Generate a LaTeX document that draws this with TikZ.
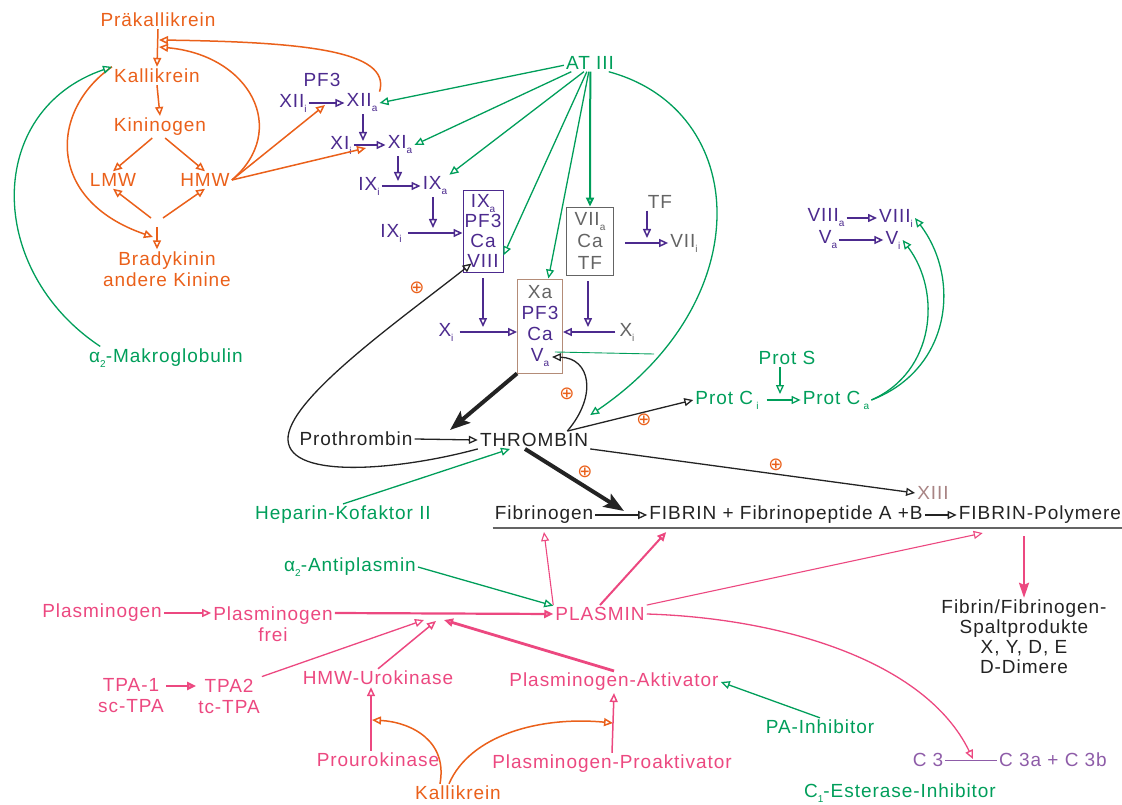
\documentclass[tikz,border=0pt]{standalone}
\usepackage{fontspec}
\setmainfont{Liberation Sans}[LetterSpace=5.0]
\newfontfamily\symfont{DejaVu Sans}
\usetikzlibrary{arrows.meta}

\definecolor{cOrange}{RGB}{234,96,26}
\definecolor{cGreen}{RGB}{0,158,90}
\definecolor{cPurple}{RGB}{76,42,142}
\definecolor{cPink}{RGB}{236,72,128}
\definecolor{cGray}{RGB}{100,100,100}
\definecolor{cDark}{RGB}{35,35,35}
\definecolor{cBrown}{RGB}{180,140,120}
\definecolor{cRose}{RGB}{168,132,132}
\definecolor{cMauve}{RGB}{142,92,168}

\newcommand{\lowsub}[1]{\raisebox{-0.5ex}{\fontsize{10}{10}\selectfont #1}}

\begin{document}
\begin{tikzpicture}[
    x=1pt, y=-1pt,
    every node/.style={font=\fontsize{19}{21}\selectfont, inner sep=2pt, align=center},
    orangetxt/.style={text=cOrange},
    greentxt/.style={text=cGreen},
    purpletxt/.style={text=cPurple},
    pinktxt/.style={text=cPink},
    graytxt/.style={text=cGray},
    darktxt/.style={text=cDark},
    plussign/.style={text=cOrange, font={\symfont\fontsize{18}{18}\selectfont}},
    factorbox/.style={draw, line width=0.9pt, inner sep=0pt},
    arrow/.style={-{Triangle[open, length=9pt, width=8pt]}, line width=1.5pt},
    orangearrow/.style={arrow, draw=cOrange},
    greenarrow/.style={arrow, draw=cGreen, line width=1.3pt},
    purplearrow/.style={arrow, draw=cPurple},
    pinkarrow/.style={arrow, draw=cPink},
    darkarrow/.style={arrow, draw=cDark, line width=1.3pt},
    thickarrow/.style={-{Stealth[length=20pt, width=15pt, inset=4pt]}, line width=4pt, draw=cDark},
    spaltarrow/.style={-{Stealth[length=15pt, width=10pt, inset=2pt]}, line width=2.4pt, draw=cPink}
]
\useasboundingbox (0,0) rectangle (1122,805);

% Kallikrein / Kinine
\node[orangetxt] (Prae) at (158, 20) {Präkallikrein};
\node[orangetxt] (Kalli) at (157, 76) {Kallikrein};
\node[orangetxt] (Kinino) at (160, 127) {Kininogen};
\node[orangetxt] (LMW) at (113, 180) {LMW};
\node[orangetxt] (HMW) at (205, 180) {HMW};
\node[orangetxt] (Brady) at (167, 269) {Bradykinin\\andere Kinine};
\node[greentxt] (Makro) at (166, 358) {α\lowsub{2}-Makroglobulin};

% Gerinnungskaskade
\node[greentxt] (ATIII) at (590, 63) {AT III};
\node[purpletxt] (PFiii) at (322, 80) {PF3};
\node[purpletxt] (XIIi) at (293, 103) {XII\lowsub{i}};
\node[purpletxt] (XIIa) at (362, 103) {XII\lowsub{a}};
\node[purpletxt] (XIi) at (341, 145) {XI\lowsub{i}};
\node[purpletxt] (XIa) at (400, 145) {XI\lowsub{a}};
\node[purpletxt] (IXi) at (369, 186) {IX\lowsub{i}};
\node[purpletxt] (IXa) at (435, 186) {IX\lowsub{a}};
\node[purpletxt] (IXiB) at (391, 233) {IX\lowsub{i}};
\node[factorbox, draw=cPurple, text=cPurple, minimum width=40pt, minimum height=82pt,
      font=\fontsize{19}{20}\selectfont] (BoxIX) at (483, 231) {IX\lowsub{a}\\PF3\\Ca\\VIII};
\node[factorbox, draw=cGray, text=cGray, minimum width=47pt, minimum height=68pt,
      font=\fontsize{19}{22}\selectfont] (BoxVII) at (590, 241) {VII\lowsub{a}\\Ca\\TF};
\node[factorbox, draw=cBrown, text=cPurple, minimum width=45pt, minimum height=94pt,
      font=\fontsize{19}{21}\selectfont] (BoxX) at (540, 326) {\textcolor{cGray}{Xa}\\PF3\\Ca\\V\lowsub{a}};
\node[graytxt] (TF) at (660, 202) {TF};
\node[graytxt] (VII) at (684, 243) {VII\lowsub{i}};
\node[purpletxt] (Xi) at (446, 332) {X\lowsub{i}};
\node[graytxt] (XiR) at (627, 332) {X\lowsub{i}};

% Thrombin
\node[darktxt] (Proth) at (356, 439) {Prothrombin};
\node[darktxt] (Thrombin) at (534, 440) {THROMBIN};
\node[greentxt] (Heparin) at (343, 515) {Heparin-Kofaktor II};
\node[greentxt] (ProtS) at (787, 358) {Prot S};
\node[greentxt] (ProtCi) at (727, 400) {Prot C\,\lowsub{i}};
\node[greentxt] (ProtCa) at (836, 400) {Prot C\,\lowsub{a}};
\node[purpletxt] (VIIIa) at (826, 218) {VIII\lowsub{a}};
\node[purpletxt] (VIIIi) at (896, 218) {VIII\lowsub{i}};
\node[purpletxt] (Va) at (828, 240) {V\lowsub{a}};
\node[purpletxt] (Vi) at (893, 240) {V\lowsub{i}};
\node[text=cRose] (XIII) at (933, 493) {XIII};

% Fibrin
\node[darktxt] (Fibrinogen) at (544, 515) {Fibrinogen};
\node[darktxt] (Fibrin) at (786, 515) {FIBRIN + Fibrinopeptide A +B};
\node[darktxt] (Polymere) at (1040, 515) {FIBRIN-Polymere};
\node[darktxt, font=\fontsize{19}{20}\selectfont] (Spalt) at (1024, 637)
      {Fibrin/Fibrinogen-\\Spaltprodukte\\X, Y, D, E\\D-Dimere};

% Fibrinolyse
\node[greentxt] (Antiplasmin) at (350, 567) {α\lowsub{2}-Antiplasmin};
\node[pinktxt] (Plasminogen) at (102, 613) {Plasminogen};
\node[pinktxt] (PlgFrei) at (273, 624) {Plasminogen\\frei};
\node[pinktxt] (Plasmin) at (600, 614) {PLASMIN};
\node[pinktxt] (TPAi) at (131, 696) {TPA-1\\sc-TPA};
\node[pinktxt] (TPAii) at (229, 696) {TPA2\\tc-TPA};
\node[pinktxt] (Uro) at (378, 678) {HMW-Urokinase};
\node[pinktxt] (Prouro) at (378, 760) {Prourokinase};
\node[orangetxt] (KalliB) at (458, 793) {Kallikrein};
\node[pinktxt] (PlgAkt) at (614, 682) {Plasminogen-Aktivator};
\node[pinktxt] (PlgProakt) at (612, 764) {Plasminogen-Proaktivator};
\node[greentxt] (PAInh) at (820, 727) {PA-Inhibitor};
\node[text=cMauve] (CIII) at (928, 760) {C 3};
\node[text=cMauve] (CIIIab) at (1053, 760) {C 3a + C 3b};
\node[greentxt] (CEst) at (900, 793) {C\lowsub{1}-Esterase-Inhibitor};

\node[plussign] (plusA) at (417, 288) {⊕};
\node[plussign] (plusB) at (567, 394) {⊕};
\node[plussign] (plusC) at (644, 420) {⊕};
\node[plussign] (plusD) at (585, 472) {⊕};
\node[plussign] (plusE) at (776, 465) {⊕};

\coordinate (pkA) at (159, 40);
\coordinate (pkB) at (159, 47);
\coordinate (xiiCat) at (325, 105);
\coordinate (xiCat) at (366, 148);
\coordinate (kinL) at (151, 218);
\coordinate (kinR) at (163, 218);
\coordinate (kinTop) at (157, 227);
\coordinate (kinCat) at (153, 237);
\coordinate (xiMid) at (363, 141);
\coordinate (ixMid) at (398, 181);
\coordinate (ixaMid) at (433, 228);
\coordinate (xMidL) at (483, 327);
\coordinate (xMidR) at (588, 327);
\coordinate (viiMid) at (647, 238);
\coordinate (vaEnd) at (654, 354);
\coordinate (convMid) at (450, 430);
\coordinate (pcMid) at (780, 394);
\coordinate (fibConv) at (624, 511);
\coordinate (actA) at (424, 620);
\coordinate (actB) at (436, 621);
\coordinate (actC) at (444, 620);
\coordinate (uroCat) at (372, 720);
\coordinate (aktCat) at (613, 723);
\coordinate (cMid) at (973, 759);

% Kallikrein / Kinine
\draw[orangearrow] (Prae.south) -- (Kalli.north);
\draw[orangearrow] (XIIa.north east) .. controls (392,50) and (300,42) .. (pkA);
\draw[orangearrow] (HMW.east) .. controls (290,130) and (250,55) .. (pkB);
\draw[orangearrow] (HMW.east) -- (xiiCat);
\draw[orangearrow] (HMW.east) -- (xiCat);
\draw[orangearrow] (Kalli.south) -- (Kinino.north);
\draw[orangearrow] (Kinino.235) -- (LMW.north);
\draw[orangearrow] (Kinino.295) -- (HMW.north);
\draw[orangearrow] (kinL) -- (LMW.south);
\draw[orangearrow] (kinR) -- (HMW.south);
\draw[orangearrow] (kinTop) -- (kinTop |- Brady.north);
\draw[orangearrow] (Kalli.north west) .. controls (50,110) and (45,200) .. (kinCat);
\draw[greenarrow] (Makro.170) .. controls (-15,270) and (-15,110) .. (Kalli.north west);

% Gerinnungskaskade
\draw[purplearrow] (XIIi.east) -- (XIIa.west);
\draw[purplearrow] (XIIa.south -| xiMid) -- (xiMid);
\draw[purplearrow] (XIi.east) -- (XIa.west);
\draw[purplearrow] (XIa.south -| ixMid) -- (ixMid);
\draw[purplearrow] (IXi.east) -- (IXa.west);
\draw[purplearrow] (IXa.south -| ixaMid) -- (ixaMid);
\draw[purplearrow, shorten <=4pt] (IXiB.east) -- (IXiB.east -| BoxIX.west);
\draw[purplearrow] (BoxIX.south) ++(0,6) -- (xMidL);
\draw[purplearrow, shorten <=4pt] (Xi.east) -- (Xi.east -| BoxX.west);
\draw[purplearrow] (BoxVII.south -| xMidR) ++(0,6) -- (xMidR);
\draw[purplearrow, shorten <=2pt] (XiR.west) -- (XiR.west -| BoxX.east);
\draw[purplearrow] (viiMid |- TF.south) -- (viiMid);
\draw[purplearrow, shorten <=11pt] (VII.west -| BoxVII.east) -- (VII.west);
\draw[greenarrow] (ATIII.185) -- (XIIa.east);
\draw[greenarrow] (ATIII.205) -- (XIa.east);
\draw[greenarrow] (ATIII.235) -- (IXa.north east);
\draw[greenarrow] (ATIII.250) -- (BoxIX.-50);
\draw[greenarrow] (ATIII.262) -- (BoxX.80);
\draw[greenarrow, line width=2pt] (ATIII.272) -- (BoxVII.north);
\draw[greenarrow] (ATIII.335) .. controls (750,110) and (760,300) .. ([yshift=16pt]Thrombin.north east);
\draw[cGreen, line width=0.9pt] ([xshift=-8pt, yshift=-26pt]BoxX.east) -- (vaEnd);

% Thrombin
\draw[darkarrow] (Proth.east) -- (Thrombin.west);
\draw[thickarrow] (BoxX.south west) -- (convMid);
\draw[darkarrow] (Thrombin.south west) .. controls (400,470) and (290,480) .. (288,440)
      .. controls (286,400) and (400,320) .. ([xshift=9pt, yshift=9pt]BoxIX.south west);
\draw[darkarrow] (Thrombin.15) .. controls (598,395) and (590,358) .. ([xshift=-11pt, yshift=-31pt]BoxX.east);
\draw[darkarrow] (Thrombin.15) -- (ProtCi.west);
\draw[greenarrow, shorten <=6pt] (ProtCi.east) -- (ProtCa.west);
\draw[greenarrow] (ProtS.south -| pcMid) -- (pcMid);
\draw[greenarrow] (ProtCa.east) .. controls (950,370) and (962,280) .. (VIIIi.east);
\draw[greenarrow] (ProtCa.east) .. controls (935,372) and (942,292) .. (Vi.east);
\draw[purplearrow] (VIIIa.east) -- (VIIIi.west);
\draw[purplearrow] (Va.east) -- (Vi.west);
\draw[greenarrow] (Heparin.north) -- ([xshift=-24pt]Thrombin.south);
\draw[thickarrow] ([xshift=-9pt]Thrombin.south) -- (fibConv);
\draw[darkarrow] (Thrombin.south east) -- (XIII.west);

% Fibrin
\draw[darkarrow] (Fibrinogen.east) -- (Fibrin.west);
\draw[darkarrow] (Fibrin.east) -- (Polymere.west);
\draw[cGray, line width=1.2pt] ([yshift=-2pt]Fibrinogen.south west) -- ([yshift=-2pt]Polymere.south east);
\draw[spaltarrow] ([yshift=-10pt]Polymere.south -| Spalt) -- (Spalt.north);

% Fibrinolyse
\draw[greenarrow] (Antiplasmin.east) -- (Plasmin.170);
\draw[pinkarrow] (Plasminogen.east) -- (Plasminogen.east -| PlgFrei.west);
\draw[pinkarrow, line width=2.2pt] (Plasminogen.east -| PlgFrei.east) -- (Plasmin.west);
\draw[pinkarrow, line width=1.1pt] (Plasmin.north west) -- ([yshift=-6pt]Fibrinogen.south);
\draw[pinkarrow, line width=2pt] (Plasmin.north) -- ([xshift=19pt, yshift=-6pt]Fibrin.south west);
\draw[pinkarrow, line width=1.1pt] (Plasmin.north east) -- ([xshift=26pt, yshift=-7pt]Polymere.south west);
\draw[pinkarrow, line width=2.2pt] ([yshift=10pt]TPAi.east) -- ([yshift=10pt]TPAii.west);
\draw[pinkarrow, line width=1.3pt] (TPAii.north east) -- (actA);
\draw[pinkarrow] (Uro.north) -- (actB);
\draw[pinkarrow, line width=2.8pt] (PlgAkt.north) -- (actC);
\draw[pinkarrow] ([xshift=-7pt]Prouro.north) -- ([xshift=-7pt]Uro.south);
\draw[orangearrow] ([xshift=27pt]KalliB.north west) .. controls (448,740) and (410,722) .. (uroCat);
\draw[orangearrow] ([xshift=36pt]KalliB.north west) .. controls (470,735) and (540,716) .. (aktCat);
\draw[pinkarrow] (PlgProakt.north) -- (PlgAkt.south);
\draw[greenarrow] (PAInh.north) -- (PlgAkt.east);
\draw[pinkarrow, line width=1.3pt] (Plasmin.east) .. controls (780,618) and (925,660) .. (cMid);
\draw[cMauve, line width=1pt] (CIII.east) -- (CIIIab.west);

\end{tikzpicture}
\end{document}
